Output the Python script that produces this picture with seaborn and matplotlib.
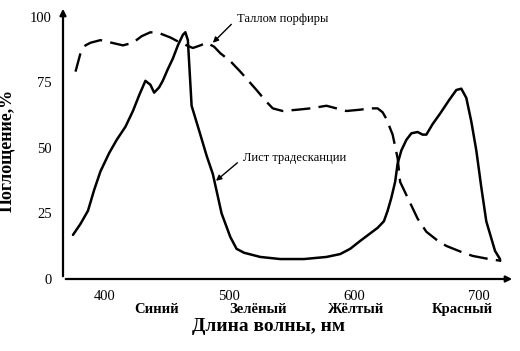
import pandas as pd
import seaborn as sns
import matplotlib.pyplot as plt

# Лист традесканции (solid)
leaf_nm = [375, 381, 387, 392, 397, 404, 410, 417, 423, 428, 433, 437, 440, 444, 447,
           451, 455, 459, 463, 465, 467, 470, 477, 482, 487, 494, 501, 506, 512, 525,
           541, 560, 578, 589, 597, 605, 612, 619, 624, 627, 630, 633, 635, 638, 642,
           646, 651, 655, 658, 663, 669, 676, 682, 686, 690, 694, 698, 702, 706, 713, 717]
leaf_abs = [16.8, 21, 26, 34, 41, 48, 53, 58, 64, 70, 75.5, 74, 71, 73, 75.6,
            80, 84, 89, 93, 94, 91, 66, 55, 47, 40, 25, 16, 11.5, 10, 8.4,
            7.6, 7.6, 8.4, 9.5, 11.5, 14.5, 17, 19.5, 22, 26, 31, 37, 44, 49, 53,
            55.5, 56, 55, 55, 59, 63, 68, 72, 72.5, 69, 60, 49, 35, 22, 10.7, 7.6]

# Таллом порфиры (dashed)
alga_nm = [377, 381, 385, 389, 397, 406, 415, 423, 430, 437, 445, 453, 461, 471, 477,
           482, 488, 493, 501, 509, 522, 529, 535, 543, 555, 565, 578, 586, 594, 605,
           613, 619, 623, 626, 631, 635, 637, 641, 645, 651, 658, 666, 674, 685, 695,
           706, 718]
alga_abs = [79, 86, 89, 90, 91, 90, 89, 90, 92.5, 94, 93.5, 92, 90, 88, 89,
            90, 88.5, 86, 83, 79, 72, 68, 65, 64, 64.5, 65, 66, 65, 64, 64.5,
            65, 65, 63.5, 61, 55, 46, 37, 33, 29, 23, 18, 15, 12.6, 10.5, 8.8,
            7.8, 6.9]

y_ticks = [0, 25, 50, 75, 100]
x_ticks = [400, 500, 600, 700]
colour_names = ["Синий", "Зелёный", "Жёлтый", "Красный"]
colour_nm = [442, 523, 601, 687]

leaf = pd.DataFrame({"nm": leaf_nm, "abs": leaf_abs})
alga = pd.DataFrame({"nm": alga_nm, "abs": alga_abs})

sns.set_style("white", {"text.color": "black", "axes.labelcolor": "black",
                        "xtick.color": "black", "ytick.color": "black"})
plt.rcParams["font.family"] = ["Liberation Serif", "DejaVu Serif"]

fig = plt.figure(figsize=(5.2, 3.51), dpi=100)
ax = fig.add_axes([63 / 520, 1 - 279 / 351, 452 / 520, 273 / 351])

sns.lineplot(data=leaf, x="nm", y="abs", sort=False, color="black", lw=1.8, ax=ax)
sns.lineplot(data=alga, x="nm", y="abs", sort=False, color="black", lw=1.7,
             dashes=False, ax=ax).lines[-1].set_dashes((8, 3.5))
for ln in ax.lines:
    ln.set_solid_joinstyle("round")
    ln.set_dash_joinstyle("round")

ax.set_xlim(367, 729)
ax.set_ylim(0, 104)
for s in ax.spines.values():
    s.set_visible(False)

# axes with arrows
ax.annotate("", xy=(1, 0), xytext=(0, 0), xycoords="axes fraction",
            arrowprops=dict(arrowstyle="-|>", color="black", lw=1.6, mutation_scale=9))
ax.annotate("", xy=(0, 1), xytext=(0, 0), xycoords="axes fraction",
            arrowprops=dict(arrowstyle="-|>", color="black", lw=1.6, mutation_scale=9))

ax.set_xticks(x_ticks)
ax.set_yticks(y_ticks)
ax.tick_params(length=0, labelsize=10.5, pad=8, labelcolor="black")
ax.set_xlabel("")
ax.set_ylabel("Поглощение,%", fontsize=13, fontweight="bold", color="black")
ax.yaxis.set_label_coords(-0.105, 0.47)

for name, nm in zip(colour_names, colour_nm):
    ax.text(nm, -0.11, name, transform=ax.get_xaxis_transform(), ha="center",
            va="center", fontsize=10.5, fontweight="bold", color="black")
ax.text(0.455, -0.175, "Длина волны, нм", transform=ax.transAxes, ha="center",
        va="center", fontsize=14, fontweight="bold", color="black")

ax.annotate("Таллом порфиры", xy=(487, 90), xytext=(506, 99),
            fontsize=9, va="center", ha="left", color="black",
            arrowprops=dict(arrowstyle="-|>", color="black", lw=1, mutation_scale=8,
                            shrinkA=2, shrinkB=0, relpos=(0, 0.5)))
ax.annotate("Лист традесканции", xy=(489.5, 37.4), xytext=(511, 46),
            fontsize=9, va="center", ha="left", color="black",
            arrowprops=dict(arrowstyle="-|>", color="black", lw=1, mutation_scale=8,
                            shrinkA=2, shrinkB=0, relpos=(0, 0.5)))

fig.savefig("out.png", dpi=100)
